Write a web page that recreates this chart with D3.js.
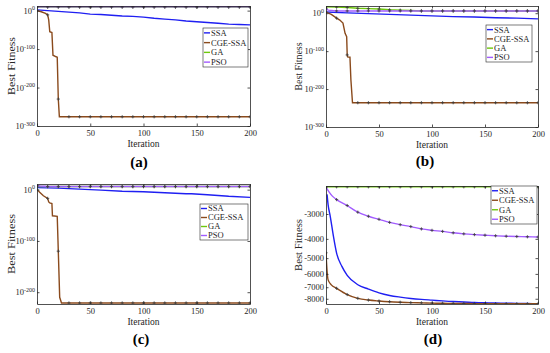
<!DOCTYPE html>
<html>
<head>
<meta charset="utf-8">
<script src="https://cdn.jsdelivr.net/npm/d3@7"></script>
<style>
body { margin: 0; background: #fff; }
svg { display: block; }
</style>
</head>
<body>
<svg width="550" height="353" font-family="'Liberation Serif', 'Times New Roman', 'DejaVu Serif', serif"></svg>
<script>
(function() {

var names = ["SSA", "CGE-SSA", "GA", "PSO"];
var xTicks = [0, 50, 100, 150, 200];

// (a) best fitness, log scale
var ssaA = [[0,1e2],[10,1e0],[20,1e-2],[30,1e-4],[40,1e-6],[50,1e-9],[60,1e-10],[70,1e-12],[80,1e-14],[90,1e-15],[100,1e-17],
  [110,1e-20],[120,1e-22],[130,1e-24],[140,1e-27],[150,1e-29],[160,1e-31],[170,1e-33],[180,1e-35],[190,1e-36],[200,1e-37]];
var cgeA = [[0,1e0],[4,1e-3],[8,1e-7],[10,1e-11],[11,1e-24],[12,1e-55],[14,1e-57],[15,1e-116],[18,1e-120],[19,1e-121],
  [20,1e-230],[21,1e-276],[30,1e-276],[40,1e-276],[50,1e-276],[60,1e-276],[70,1e-276],[80,1e-276],[90,1e-276],[100,1e-276],
  [110,1e-276],[120,1e-276],[130,1e-276],[140,1e-276],[150,1e-276],[160,1e-276],[170,1e-276],[180,1e-276],[190,1e-276],[200,1e-276]];
var gaA = [[0,1e9],[10,1e9],[20,1e9],[30,1e9],[40,1e9],[50,1e9],[60,1e9],[70,1e9],[80,1e9],[90,1e9],[100,1e9],
  [110,1e9],[120,1e9],[130,1e9],[140,1e9],[150,1e9],[160,1e9],[170,1e9],[180,1e9],[190,1e9],[200,1e9]];
var psoA = [[0,1e10],[10,1e10],[20,1e10],[30,1e10],[40,1e10],[50,1e10],[60,1e10],[70,1e10],[80,1e10],[90,1e10],[100,1e10],
  [110,1e10],[120,1e10],[130,1e10],[140,1e10],[150,1e10],[160,1e10],[170,1e10],[180,1e10],[190,1e10],[200,1e10]];

// (b)
var ssaB = [[0,1e3],[20,1e1],[40,1e-1],[60,1e-3],[80,1e-5],[100,1e-7],[120,1e-9],[140,1e-10],[160,1e-12],[180,1e-13],[200,1e-15]];
var cgeB = [[0,1e3],[5,1e-3],[10,1e-13],[13,1e-18],[16,1e-26],[18,1e-53],[19.5,1e-62],[20,1e-110],[20.4,1e-115],[22.6,1e-116],
  [23.5,1e-176],[25,1e-236],[30,1e-236],[40,1e-236],[50,1e-236],[60,1e-236],[70,1e-236],[80,1e-236],[90,1e-236],[100,1e-236],
  [110,1e-236],[120,1e-236],[130,1e-236],[140,1e-236],[150,1e-236],[160,1e-236],[170,1e-236],[180,1e-236],[190,1e-236],[200,1e-236]];
var gaB = [[0,1e17],[10,1e16],[20,1e15],[30,1e13],[40,1e12],[50,1e11],[60,1e9],[70,1e8],[80,1e7],[90,1e6],[100,1e6],
  [110,1e6],[120,1e6],[130,1e6],[140,1e6],[150,1e6],[160,1e6],[170,1e6],[180,1e6],[190,1e6],[200,1e6]];
var psoB = [[0,1e12],[2,1e8],[10,1e6],[20,1e6],[30,1e6],[40,1e6],[50,1e6],[60,1e6],[70,1e6],[80,1e6],[90,1e6],[100,1e6],
  [110,1e6],[120,1e6],[130,1e6],[140,1e6],[150,1e6],[160,1e6],[170,1e6],[180,1e6],[190,1e6],[200,1e6]];

// (c)
var ssaC = [[0,1e4],[20,1e3],[40,1e1],[60,1e-1],[80,1e-3],[100,1e-4],[120,1e-6],[140,1e-8],[145,1e-8],[160,1e-10],[180,1e-13],[200,1e-15]];
var cgeC = [[0,1e0],[3,1e-6],[6,1e-12],[10,1e-17],[11,1e-24],[12,1e-26],[14,1e-27],[14.5,1e-51],[19,1e-52],[19.7,1e-99],
  [20,1e-120],[21.3,1e-210],[23,1e-221],[30,1e-221],[40,1e-221],[50,1e-221],[60,1e-221],[70,1e-221],[80,1e-221],[90,1e-221],[100,1e-221],
  [110,1e-221],[120,1e-221],[130,1e-221],[140,1e-221],[150,1e-221],[160,1e-221],[170,1e-221],[180,1e-221],[190,1e-221],[200,1e-221]];
var gaC = [[0,1e6],[10,1e6],[20,1e6],[30,1e6],[40,1e6],[50,1e6],[60,1e6],[70,1e6],[80,1e6],[90,1e6],[100,1e6],
  [110,1e6],[120,1e6],[130,1e6],[140,1e6],[150,1e6],[160,1e6],[170,1e6],[180,1e6],[190,1e6],[200,1e6]];
var psoC = [[0,1e8],[3,1e7],[10,1e6],[20,1e6],[30,1e6],[40,1e6],[50,1e6],[60,1e6],[70,1e6],[80,1e6],[90,1e6],[100,1e6],
  [110,1e6],[120,1e6],[130,1e6],[140,1e6],[150,1e6],[160,1e6],[170,1e6],[180,1e6],[190,1e6],[200,1e6]];

// (d) negative fitness values
var ssaD = [[1,-2390],[2,-2700],[4,-3080],[7,-3880],[10,-4720],[15,-5500],[20,-6100],[30,-6800],[40,-7150],[50,-7470],[60,-7700],
  [70,-7850],[80,-7970],[90,-8060],[100,-8130],[110,-8200],[120,-8260],[130,-8300],[140,-8350],[150,-8380],[160,-8400],
  [170,-8420],[180,-8440],[190,-8455],[200,-8465]];
var cgeD = [[0,-4700],[1,-5800],[2,-6430],[5,-6810],[10,-7090],[20,-7620],[30,-7960],[40,-8120],[50,-8210],[60,-8280],
  [70,-8330],[80,-8370],[90,-8390],[100,-8410],[110,-8430],[120,-8440],[130,-8450],[140,-8460],[150,-8465],[160,-8470],
  [170,-8472],[180,-8475],[190,-8477],[200,-8480]];
var gaD = [[0,-2190],[10,-2190],[20,-2190],[30,-2190],[40,-2190],[50,-2190],[60,-2190],[70,-2190],[80,-2190],[90,-2190],[100,-2190],
  [110,-2190],[120,-2190],[130,-2190],[140,-2190],[150,-2190],[160,-2190],[170,-2190],[180,-2190],[190,-2190],[200,-2190]];
var psoD = [[0,-2197],[3,-2330],[6,-2440],[10,-2540],[20,-2720],[30,-2938],[40,-3080],[50,-3190],[60,-3305],[70,-3395],
  [80,-3470],[90,-3565],[100,-3625],[110,-3670],[120,-3730],[130,-3775],[140,-3808],[150,-3835],[160,-3860],[170,-3880],
  [180,-3893],[190,-3905],[200,-3916]];

var colors = ["#1f1ff2", "#8a4a1c", "#6ec80c", "#a25cff"];
var marked = [false, true, true, true];

var svg = d3.select("svg");

var panels = [
  {key: "a", x0: 37, x1: 250, y0: 6, y1: 126, domain: [1e-300, 1e12], yticks: [1e0, 1e-100, 1e-200, 1e-300],
   series: [ssaA, cgeA, gaA, psoA], legend: [203, 28, 45, 39], label: [139, 167], ylab: [11, 58]},
  {key: "b", x0: 326, x1: 538, y0: 6, y1: 127, domain: [1e-300, 1e19], yticks: [1e0, 1e-100, 1e-200, 1e-300],
   series: [ssaB, cgeB, gaB, psoB], legend: [486, 25, 46, 37], label: [425, 166], ylab: [298, 48]},
  {key: "c", x0: 37, x1: 250, y0: 184, y1: 304, domain: [1e-223, 1e11], yticks: [1e0, 1e-100, 1e-200],
   series: [ssaC, cgeC, gaC, psoC], legend: [200, 204, 48, 36], label: [141, 344], ylab: [11, 60]},
  {key: "d", x0: 326, x1: 538, y0: 186, y1: 304, domain: [-8500, -2170], yticks: [-3000, -4000, -5000, -6000, -7000, -8000],
   series: [ssaD, cgeD, gaD, psoD], legend: [491, 186, 46, 38], label: [433, 344], ylab: [298, 52], smooth: true}
];

function expLabel(sel) {
  sel.each(function(d) {
    var t = d3.select(this).text(null);
    t.append("tspan").text("10");
    t.append("tspan").attr("dy", "-3.5").attr("font-size", 6).text(Math.round(Math.log10(d)));
  });
}

function drawPanel(p) {
  var g = svg.append("g");
  var x = d3.scaleLinear().domain([0, 200]).range([p.x0, p.x1]);
  var y = d3.scaleLog().domain(p.domain).range([p.y1, p.y0]);

  svg.append("clipPath").attr("id", "clip-" + p.key)
    .append("rect").attr("x", p.x0).attr("y", p.y0).attr("width", p.x1 - p.x0).attr("height", p.y1 - p.y0);

  var line = d3.line()
    .x(function(d) { return x(d[0]); })
    .y(function(d) { return y(d[1]); })
    .curve(p.smooth ? d3.curveMonotoneX : d3.curveLinear);

  var plot = g.append("g").attr("clip-path", "url(#clip-" + p.key + ")");
  p.series.forEach(function(s, i) {
    plot.append("path").datum(s)
      .attr("d", line)
      .attr("fill", "none")
      .attr("stroke", colors[i])
      .attr("stroke-width", 1.4);
    if (marked[i]) {
      plot.append("g").selectAll("path")
        .data(s.filter(function(d) { return d[0] % 10 === 0; }))
        .enter().append("path")
        .attr("d", "M-1.6,0H1.6M0,-1.6V1.6")
        .attr("transform", function(d) { return "translate(" + x(d[0]) + "," + y(d[1]) + ")"; })
        .attr("stroke", "#3a3a3a")
        .attr("stroke-width", 0.8);
    }
  });

  // axes, ticks pointing inward like matlab
  g.append("g").attr("transform", "translate(0," + p.y1 + ")")
    .call(d3.axisBottom(x).tickValues(xTicks).tickSize(-2.5).tickSizeOuter(0).tickPadding(4));
  g.append("g").attr("transform", "translate(0," + p.y0 + ")")
    .call(d3.axisTop(x).tickValues(xTicks).tickSize(-2.5).tickSizeOuter(0).tickFormat(""));
  var left = g.append("g").attr("transform", "translate(" + p.x0 + ",0)")
    .call(d3.axisLeft(y).tickValues(p.yticks).tickSize(-2.5).tickSizeOuter(0).tickPadding(2)
      .tickFormat(function(d) { return d < 0 ? "-" + Math.abs(d) : ""; }));
  g.append("g").attr("transform", "translate(" + p.x1 + ",0)")
    .call(d3.axisRight(y).tickValues(p.yticks).tickSize(-2.5).tickSizeOuter(0).tickFormat(""));

  g.selectAll("g").attr("font-family", null).attr("font-size", null);
  g.selectAll(".domain, .tick line").attr("stroke", "#262626").attr("stroke-width", 0.8);
  g.selectAll(".tick text").attr("font-size", 8.5).attr("fill", "#262626");
  if (p.domain[0] > 0) left.selectAll(".tick text").call(expLabel);

  g.append("text")
    .attr("x", (p.x0 + p.x1) / 2).attr("y", p.y1 + 21)
    .attr("text-anchor", "middle").attr("font-size", 9.5).attr("fill", "#262626")
    .text("Iteration");

  g.append("text")
    .attr("transform", "translate(" + p.ylab[0] + "," + ((p.y0 + p.y1) / 2) + ") rotate(-90)")
    .attr("text-anchor", "middle").attr("dy", "0.35em").attr("font-size", 11).attr("fill", "#262626")
    .attr("textLength", p.ylab[1]).attr("lengthAdjust", "spacingAndGlyphs")
    .text("Best Fitness");

  // legend
  var lg = p.legend;
  g.append("rect").attr("x", lg[0]).attr("y", lg[1]).attr("width", lg[2]).attr("height", lg[3])
    .attr("fill", "#fff").attr("stroke", "#262626").attr("stroke-width", 0.6);
  var step = lg[3] / 4;
  names.forEach(function(n, i) {
    var yy = lg[1] + step * (i + 0.5);
    g.append("line").attr("x1", lg[0] + 1).attr("x2", lg[0] + 7).attr("y1", yy).attr("y2", yy)
      .attr("stroke", colors[i]).attr("stroke-width", 1.4);
    g.append("text").attr("x", lg[0] + 8).attr("y", yy).attr("dy", "0.35em")
      .attr("font-size", 8.5).attr("fill", "#262626").text(n);
  });

  g.append("text")
    .attr("x", p.label[0]).attr("y", p.label[1])
    .attr("text-anchor", "middle").attr("font-size", 15).attr("font-weight", "bold").attr("fill", "#000")
    .text("(" + p.key + ")");
}

panels.forEach(drawPanel);

})();
</script>
</body>
</html>
